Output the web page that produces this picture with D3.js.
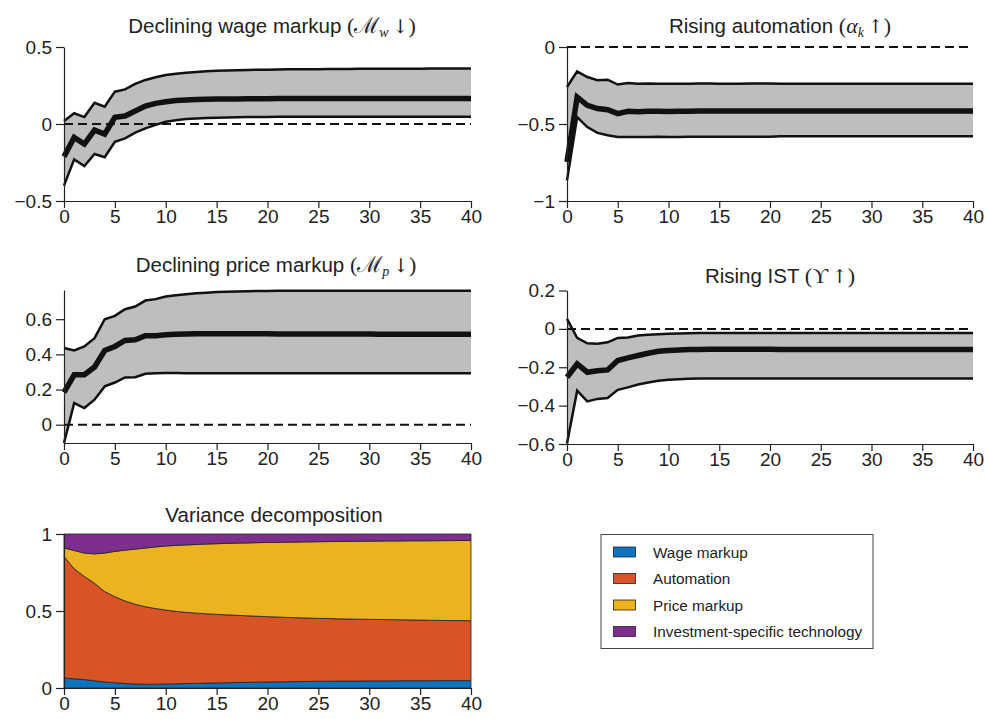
<!DOCTYPE html>
<html>
<head>
<meta charset="utf-8">
<script src="https://cdn.jsdelivr.net/npm/d3@7"></script>
<style>
  body { margin: 0; background: #fff; }
  svg text { fill: #222; }
  .axis path, .axis line { stroke: #222; stroke-width: 1.2; }
  .axis text { font-family: "Liberation Sans", Arial, sans-serif; font-size: 19px; fill: #222; }
  .title { font-family: "Liberation Sans", Arial, sans-serif; font-size: 20.5px; }
  .math { font-family: "Liberation Serif", "DejaVu Serif", serif; font-size: 22px; }
  .math.sub { font-size: 14px; }
  .arrow { font-family: "DejaVu Serif", serif; font-size: 19px; }
  .legend text { font-family: "Liberation Sans", Arial, sans-serif; font-size: 15.3px; }
</style>
</head>
<body>
<svg id="chart" width="987" height="719"></svg>
<script>
// horizon (quarters) en tick labels
const horizon = d3.range(0, 41);
const xTicks = [0, 5, 10, 15, 20, 25, 30, 35, 40];

// Declining wage markup
const wageUpper = [0.020,0.070,0.045,0.138,0.112,0.210,0.225,0.260,0.286,0.303,0.318,0.327,0.333,0.338,0.342,0.345,0.347,0.349,0.351,0.352,0.353,0.354,0.355,0.355,0.356,0.356,0.357,0.357,0.357,0.358,0.358,0.358,0.359,0.359,0.359,0.359,0.360,0.360,0.360,0.360,0.360];
const wageMedian = [-0.212,-0.087,-0.130,-0.040,-0.065,0.043,0.052,0.084,0.117,0.134,0.145,0.152,0.156,0.159,0.161,0.162,0.163,0.163,0.164,0.164,0.164,0.165,0.165,0.165,0.165,0.165,0.165,0.165,0.165,0.165,0.165,0.165,0.165,0.165,0.165,0.165,0.165,0.165,0.165,0.165,0.165];
const wageLower = [-0.400,-0.230,-0.273,-0.195,-0.216,-0.115,-0.093,-0.056,-0.028,-0.006,0.015,0.025,0.032,0.036,0.039,0.041,0.043,0.044,0.045,0.046,0.046,0.047,0.047,0.047,0.047,0.047,0.047,0.047,0.047,0.047,0.047,0.047,0.047,0.047,0.047,0.047,0.047,0.047,0.047,0.047,0.047];
const wageTicks = [-0.5, 0, 0.5];

// Rising automation
const autoUpper = [-0.260,-0.158,-0.195,-0.216,-0.212,-0.244,-0.234,-0.238,-0.237,-0.238,-0.239,-0.238,-0.238,-0.237,-0.237,-0.238,-0.238,-0.238,-0.237,-0.237,-0.237,-0.238,-0.238,-0.238,-0.238,-0.238,-0.238,-0.238,-0.238,-0.238,-0.238,-0.238,-0.238,-0.238,-0.238,-0.238,-0.238,-0.238,-0.238,-0.238,-0.238];
const autoMedian = [-0.747,-0.325,-0.379,-0.400,-0.407,-0.433,-0.418,-0.420,-0.418,-0.417,-0.419,-0.418,-0.417,-0.416,-0.416,-0.416,-0.416,-0.416,-0.416,-0.416,-0.416,-0.415,-0.415,-0.415,-0.415,-0.415,-0.415,-0.415,-0.415,-0.415,-0.415,-0.415,-0.415,-0.415,-0.415,-0.415,-0.415,-0.415,-0.415,-0.415,-0.415];
const autoLower = [-0.866,-0.455,-0.520,-0.558,-0.573,-0.584,-0.585,-0.585,-0.584,-0.583,-0.585,-0.584,-0.583,-0.582,-0.582,-0.582,-0.582,-0.582,-0.582,-0.582,-0.582,-0.580,-0.580,-0.580,-0.580,-0.580,-0.580,-0.580,-0.580,-0.580,-0.580,-0.580,-0.580,-0.580,-0.580,-0.580,-0.580,-0.580,-0.580,-0.580,-0.580];
const autoTicks = [-1, -0.5, 0];

// Declining price markup
const priceUpper = [0.436,0.422,0.445,0.492,0.600,0.619,0.657,0.672,0.706,0.714,0.729,0.736,0.742,0.747,0.751,0.754,0.756,0.758,0.759,0.760,0.761,0.762,0.762,0.762,0.762,0.762,0.762,0.762,0.762,0.762,0.762,0.762,0.762,0.762,0.762,0.762,0.762,0.762,0.762,0.762,0.762];
const priceMedian = [0.184,0.284,0.284,0.328,0.422,0.445,0.479,0.483,0.506,0.506,0.512,0.515,0.516,0.517,0.517,0.517,0.517,0.517,0.517,0.517,0.517,0.516,0.516,0.516,0.516,0.516,0.516,0.516,0.516,0.516,0.516,0.515,0.515,0.515,0.515,0.515,0.515,0.515,0.515,0.515,0.515];
const priceLower = [-0.104,0.123,0.095,0.142,0.218,0.240,0.269,0.270,0.290,0.292,0.294,0.294,0.293,0.293,0.292,0.292,0.292,0.292,0.292,0.292,0.292,0.293,0.293,0.293,0.293,0.293,0.293,0.293,0.293,0.293,0.293,0.293,0.293,0.293,0.293,0.293,0.293,0.293,0.293,0.293,0.293];
const priceTicks = [0, 0.2, 0.4, 0.6];

// Rising IST
const istUpper = [0.052,-0.047,-0.075,-0.078,-0.070,-0.047,-0.045,-0.035,-0.031,-0.028,-0.026,-0.024,-0.023,-0.022,-0.022,-0.021,-0.021,-0.021,-0.021,-0.021,-0.021,-0.021,-0.021,-0.021,-0.021,-0.021,-0.021,-0.021,-0.021,-0.021,-0.021,-0.021,-0.021,-0.021,-0.021,-0.021,-0.021,-0.021,-0.021,-0.021,-0.021];
const istMedian = [-0.252,-0.183,-0.226,-0.218,-0.214,-0.165,-0.151,-0.139,-0.127,-0.117,-0.113,-0.110,-0.108,-0.107,-0.106,-0.106,-0.106,-0.106,-0.106,-0.106,-0.106,-0.107,-0.107,-0.107,-0.107,-0.107,-0.107,-0.107,-0.107,-0.107,-0.107,-0.107,-0.107,-0.107,-0.107,-0.107,-0.107,-0.107,-0.107,-0.107,-0.107];
const istLower = [-0.597,-0.322,-0.378,-0.365,-0.360,-0.318,-0.305,-0.290,-0.279,-0.270,-0.265,-0.262,-0.260,-0.259,-0.258,-0.258,-0.258,-0.258,-0.258,-0.258,-0.258,-0.258,-0.258,-0.258,-0.258,-0.258,-0.258,-0.258,-0.258,-0.258,-0.258,-0.258,-0.258,-0.258,-0.258,-0.258,-0.258,-0.258,-0.258,-0.258,-0.258];
const istTicks = [-0.6, -0.4, -0.2, 0, 0.2];

// Variance decomposition (aandelen per schok)
const shareWage = [0.065,0.060,0.055,0.047,0.039,0.034,0.029,0.026,0.024,0.025,0.026,0.027,0.029,0.030,0.032,0.033,0.034,0.036,0.037,0.038,0.039,0.040,0.041,0.042,0.043,0.044,0.044,0.045,0.045,0.045,0.046,0.046,0.046,0.047,0.047,0.047,0.047,0.048,0.048,0.048,0.048];
const shareAuto = [0.789,0.714,0.669,0.633,0.587,0.559,0.536,0.518,0.504,0.491,0.480,0.471,0.462,0.456,0.450,0.445,0.441,0.436,0.432,0.428,0.424,0.421,0.417,0.414,0.411,0.408,0.407,0.404,0.403,0.402,0.400,0.399,0.398,0.396,0.395,0.394,0.393,0.391,0.390,0.390,0.389];
const sharePrice = [0.055,0.119,0.152,0.191,0.250,0.294,0.330,0.358,0.381,0.400,0.416,0.428,0.438,0.446,0.453,0.459,0.464,0.469,0.473,0.478,0.482,0.485,0.489,0.492,0.495,0.498,0.500,0.503,0.504,0.506,0.508,0.509,0.511,0.512,0.514,0.515,0.516,0.518,0.519,0.520,0.521];
const shareIst = [0.091,0.107,0.124,0.129,0.124,0.113,0.105,0.098,0.091,0.084,0.078,0.074,0.071,0.068,0.065,0.063,0.061,0.059,0.058,0.056,0.055,0.054,0.053,0.052,0.051,0.050,0.049,0.048,0.048,0.047,0.046,0.046,0.045,0.045,0.044,0.044,0.044,0.043,0.043,0.042,0.042];
const shockNames = ["Wage markup", "Automation", "Price markup", "Investment-specific technology"];
const shockColors = ["#0f72bd", "#d85426", "#ebb222", "#7e2f8e"];
const vdTicks = [0, 0.5, 1];

const svg = d3.select("#chart");

// minteken zoals in het origineel
function fmt(d) {
  return d < 0 ? "\u2212" + Math.abs(d) : String(d);
}

// tekent de assen voor een paneel
function drawAxes(g, xScale, yScale, yTicks, box) {
  g.append("g")
      .attr("class", "axis")
      .attr("transform", "translate(0," + box.bottom + ")")
      .call(d3.axisBottom(xScale).tickValues(xTicks).tickSize(7).tickPadding(2).tickSizeOuter(0));
  g.append("g")
      .attr("class", "axis")
      .attr("transform", "translate(" + box.left + ",0)")
      .call(d3.axisLeft(yScale).tickValues(yTicks).tickSize(8).tickPadding(4).tickSizeOuter(0).tickFormat(fmt));
}

// titel met een stukje wiskunde erachter
function drawTitle(g, box, label, math, arrow) {
  var t = g.append("text")
      .attr("class", "title")
      .attr("x", box.titleX)
      .attr("y", box.titleY)
      .attr("text-anchor", "middle");
  t.append("tspan").text(label + " ");
  t.append("tspan").attr("class", "math").text("(");
  var lowered = false;
  math.forEach(function(m) {
    var s = t.append("tspan").attr("class", m.sub ? "math sub" : "math").text(m.text);
    if (m.italic) s.attr("font-style", "italic");
    if (m.sub) { s.attr("dy", 4); lowered = true; }
  });
  t.append("tspan").attr("class", "arrow").attr("dy", lowered ? -4 : 0).text("\u2009" + arrow);
  t.append("tspan").attr("class", "math").text(")");
}

// een impulse response paneel met band
function drawIrf(box, upper, median, lower, yTicks, label, math, arrow) {
  var g = svg.append("g");

  var xScale = d3.scaleLinear().domain([0, 40]).range([box.left, box.right]);
  var yScale = d3.scaleLinear().domain(box.yDomain).range([box.bottom, box.top]);

  var area = d3.area()
      .x(function(d) { return xScale(d); })
      .y0(function(d) { return yScale(lower[d]); })
      .y1(function(d) { return yScale(upper[d]); });

  g.append("path")
      .datum(horizon)
      .attr("d", area)
      .attr("fill", "#bdbec0");

  // nul-lijn
  g.append("line")
      .attr("x1", xScale(0)).attr("x2", xScale(40))
      .attr("y1", yScale(0)).attr("y2", yScale(0))
      .attr("stroke", "#111")
      .attr("stroke-width", 2)
      .attr("stroke-dasharray", "9,5");

  [[upper, 2.5], [lower, 2.5], [median, 5.5]].forEach(function(s) {
    var line = d3.line()
        .x(function(d) { return xScale(d); })
        .y(function(d) { return yScale(s[0][d]); });
    g.append("path")
        .datum(horizon)
        .attr("d", line)
        .attr("fill", "none")
        .attr("stroke", "#111")
        .attr("stroke-width", s[1])
        .attr("stroke-linejoin", "miter");
  });

  drawAxes(g, xScale, yScale, yTicks, box);
  drawTitle(g, box, label, math, arrow);
}

drawIrf({left: 64, right: 471, top: 47, bottom: 201, yDomain: [-0.5, 0.5], titleX: 272, titleY: 33},
  wageUpper, wageMedian, wageLower, wageTicks, "Declining wage markup",
  [{text: "\u2133"}, {text: "w", italic: true, sub: true}], "\u2193");

drawIrf({left: 567, right: 973, top: 47, bottom: 201, yDomain: [-1, 0], titleX: 780, titleY: 33},
  autoUpper, autoMedian, autoLower, autoTicks, "Rising automation",
  [{text: "\u03b1", italic: true}, {text: "k", italic: true, sub: true}], "\u2191");

drawIrf({left: 64, right: 471, top: 290, bottom: 443, yDomain: [-0.104, 0.766], titleX: 276, titleY: 272},
  priceUpper, priceMedian, priceLower, priceTicks, "Declining price markup",
  [{text: "\u2133"}, {text: "p", italic: true, sub: true}], "\u2193");

drawIrf({left: 567, right: 973, top: 290.5, bottom: 444, yDomain: [-0.6, 0.2], titleX: 780, titleY: 283},
  istUpper, istMedian, istLower, istTicks, "Rising IST",
  [{text: "\u03d2"}], "\u2191");

// variance decomposition
(function() {
  var box = {left: 64, right: 471, top: 534, bottom: 688};
  var g = svg.append("g");
  var xScale = d3.scaleLinear().domain([0, 40]).range([box.left, box.right]);
  var yScale = d3.scaleLinear().domain([0, 1]).range([box.bottom, box.top]);

  var rows = horizon.map(function(h) {
    return {h: h, s0: shareWage[h], s1: shareAuto[h], s2: sharePrice[h], s3: shareIst[h]};
  });
  var stack = d3.stack().keys(["s0", "s1", "s2", "s3"]);
  var layers = stack(rows);

  var area = d3.area()
      .x(function(d) { return xScale(d.data.h); })
      .y0(function(d) { return yScale(d[0]); })
      .y1(function(d) { return yScale(d[1]); });

  g.selectAll("path.layer")
      .data(layers)
      .enter()
      .append("path")
      .attr("class", "layer")
      .attr("d", area)
      .attr("fill", function(d, i) { return shockColors[i]; })
      .attr("stroke", "#222")
      .attr("stroke-width", 0.8);

  drawAxes(g, xScale, yScale, vdTicks, box);

  g.append("text")
      .attr("class", "title")
      .attr("x", 274)
      .attr("y", 522)
      .attr("text-anchor", "middle")
      .text("Variance decomposition");
})();

// legenda
var legend = svg.append("g").attr("class", "legend");
legend.append("rect")
    .attr("x", 601).attr("y", 534.5)
    .attr("width", 272).attr("height", 114)
    .attr("fill", "#fff")
    .attr("stroke", "#444")
    .attr("stroke-width", 1);

var items = legend.selectAll("g.item")
    .data(shockNames)
    .enter()
    .append("g")
    .attr("class", "item")
    .attr("transform", function(d, i) { return "translate(0," + (552 + i * 26.5) + ")"; });

items.append("rect")
    .attr("x", 613.5).attr("y", -5)
    .attr("width", 22).attr("height", 10)
    .attr("fill", function(d, i) { return shockColors[i]; })
    .attr("stroke", "#222")
    .attr("stroke-width", 0.8);

items.append("text")
    .attr("x", 653)
    .attr("y", 5.5)
    .text(function(d) { return d; });
</script>
</body>
</html>
